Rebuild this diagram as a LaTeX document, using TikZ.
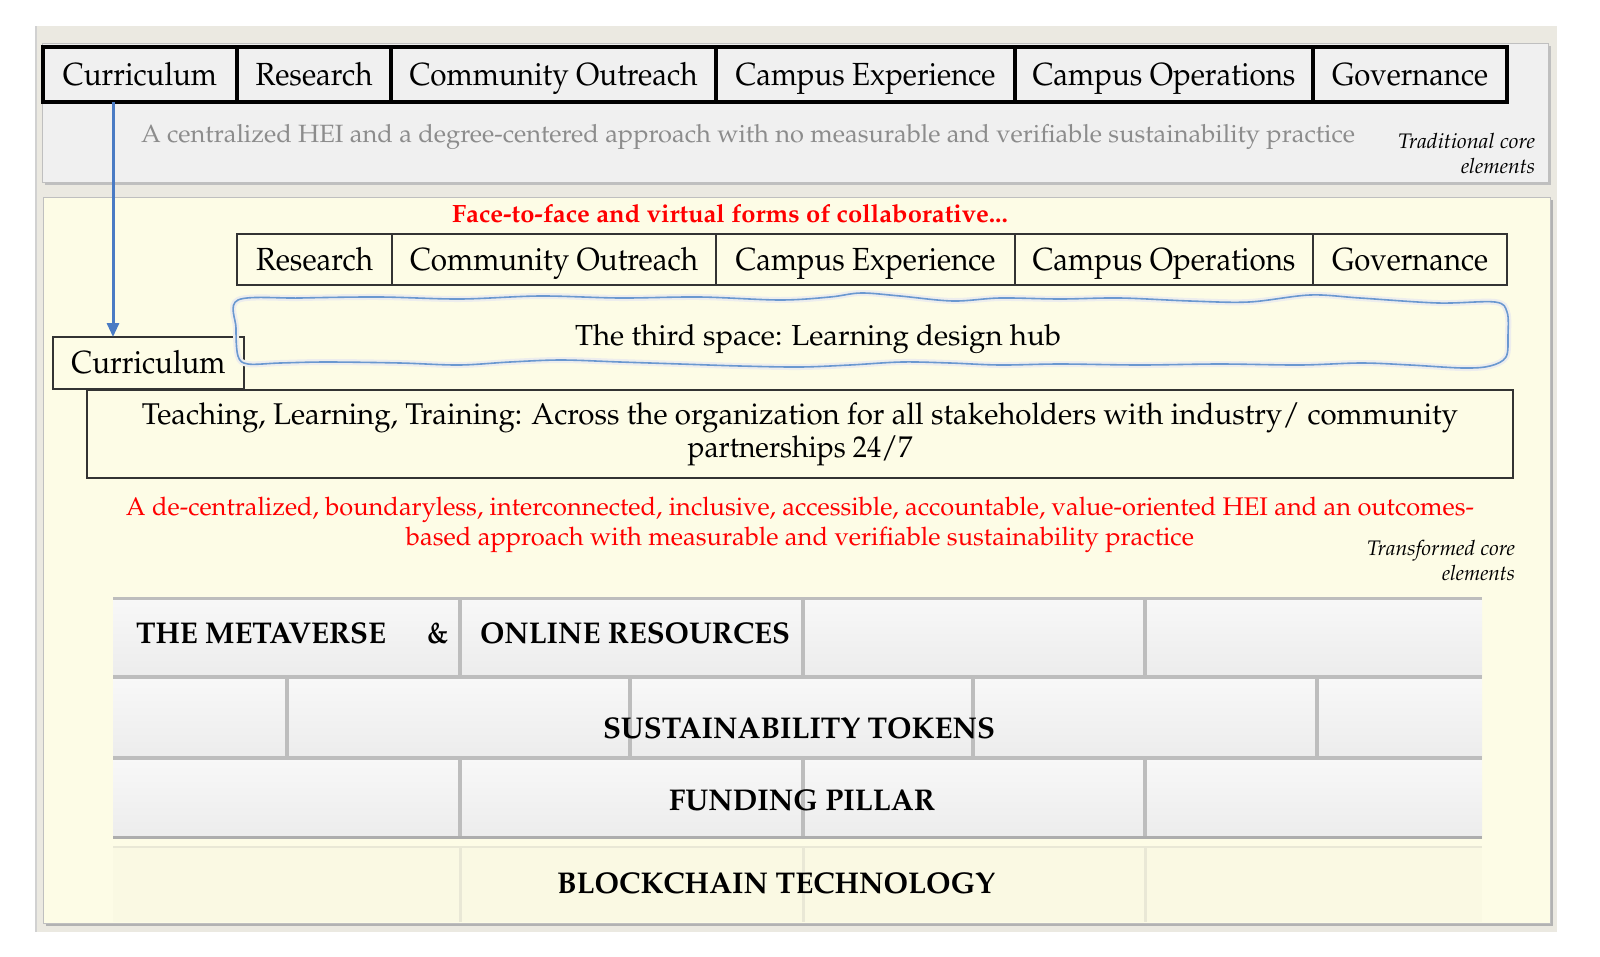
\documentclass[tikz,border=0pt]{standalone}
\IfFileExists{mathpazo.sty}{\usepackage[T1]{fontenc}\usepackage{mathpazo}}{\usepackage{fontspec}\setmainfont{Liberation Serif}}
\usepackage{graphicx}
\usetikzlibrary{arrows.meta}
\definecolor{outerbg}{HTML}{EBE9E1}
\definecolor{toppanel}{HTML}{F0F0F0}
\definecolor{lowpanel}{HTML}{FDFCE6}
\definecolor{graytext}{HTML}{8C8C8C}
\definecolor{redtext}{HTML}{FF0000}
\definecolor{arrowblue}{HTML}{4A7BC4}
\definecolor{wavyblue}{HTML}{6A98D0}
\definecolor{mortar}{HTML}{BDBDBD}
\definecolor{brickA}{HTML}{F8F8F8}
\definecolor{brickB}{HTML}{ECECEC}
\definecolor{rowfour}{HTML}{FAF9E3}
\definecolor{rowfourline}{HTML}{E9E8D6}
\newcommand\fitw[2]{\resizebox{#1pt}{\height}{#2}}
\newcommand\fsz[1]{\fontsize{#1}{#1}\selectfont}
\begin{document}
\begin{tikzpicture}[x=1pt,y=-1pt,
  every node/.style={inner sep=0pt,outer sep=0pt},
  topbox/.style={draw=black, line width=4pt, fill=toppanel, minimum height=55pt,
    text height=21pt, text depth=0pt, font=\fsz{32}},
  rowbox/.style={draw=black!80, line width=1.4pt, fill=lowpanel, minimum height=51pt,
    text height=21pt, text depth=0pt, font=\fsz{32}},
  plainbox/.style={draw=black!80, line width=1.4pt, fill=lowpanel},
  brick/.style={top color=brickA, bottom color=brickB},
  mortarline/.style={draw=mortar, line width=4pt},
  bricktext/.style={anchor=base west, font=\fsz{30}\bfseries},
  redline/.style={anchor=base, font=\fsz{25.5}, text=redtext},
  note/.style={anchor=base east, font=\fsz{21}\itshape},
  conn/.style={draw=arrowblue, line width=3pt, -{Triangle[length=14pt,width=12pt]}}
]
\useasboundingbox (0,0) rectangle (1600,956);
\fill[white] (0,0) rectangle (1600,956);
\fill[outerbg] (35,26) rectangle (1557,932);
\draw[black!18, line width=1.5pt] (36,26) -- (36,932);

% ---------- top panel ----------
\fill[black!25] (45,46) rectangle (1551,185);
\filldraw[fill=toppanel, draw=black!25, line width=0.8pt] (42,43) rectangle (1548,182);

\node[topbox, minimum width=194pt] (ctop) at (140,74.5) {\fitw{154}{Curriculum}};
\node[topbox, minimum width=154pt] (rtop) at (314,74.5) {\fitw{117}{Research}};
\node[topbox, minimum width=325pt] (otop) at (553.5,74.5) {\fitw{288}{Community Outreach}};
\node[topbox, minimum width=299pt] (etop) at (865.5,74.5) {\fitw{260}{Campus Experience}};
\node[topbox, minimum width=298pt] (ptop) at (1164,74.5) {\fitw{263}{Campus Operations}};
\node[topbox, minimum width=194pt] (gtop) at (1410,74.5) {\fitw{156}{Governance}};

\node[anchor=base west, font=\fsz{25}, text=graytext] (tradtext) at (141,142)
  {\fitw{1214}{A centralized HEI and a degree-centered approach with no measurable and verifiable sustainability practice}};
\node[note] (tradA) at (1535,148) {\fitw{137}{Traditional core}};
\node[note] (tradB) at (1535,173) {\fitw{74}{elements}};

% ---------- lower panel ----------
\fill[black!30] (46,200) rectangle (1553,926);
\filldraw[fill=lowpanel, draw=black!25, line width=0.8pt] (43,197) rectangle (1550,923);

\node[anchor=base west, font=\fsz{25}\bfseries, text=redtext] (collab) at (452,222)
  {\fitw{556}{Face-to-face and virtual forms of collaborative...}};

\node[rowbox, minimum width=155pt] (rrow) at (314.5,259.5) {\fitw{117}{Research}};
\node[rowbox, minimum width=324pt] (orow) at (554,259.5) {\fitw{288}{Community Outreach}};
\node[rowbox, minimum width=299pt] (erow) at (865.5,259.5) {\fitw{260}{Campus Experience}};
\node[rowbox, minimum width=298pt] (prow) at (1164,259.5) {\fitw{263}{Campus Operations}};
\node[rowbox, minimum width=194pt] (grow) at (1410,259.5) {\fitw{156}{Governance}};

\node[plainbox, minimum width=1426pt, minimum height=88pt] (teach) at (800,434) {};
\node[anchor=base, font=\fsz{30}] (teachA) at (800,424)
  {\fitw{1316}{Teaching, Learning, Training: Across the organization for all stakeholders with industry/ community}};
\node[anchor=base, font=\fsz{30}] (teachB) at (800,457) {\fitw{225}{partnerships 24/7}};

\node[rowbox, minimum width=191pt, minimum height=52pt] (cbot) at (148.5,363) {\fitw{154}{Curriculum}};

% wavy "third space" outline
\draw[wavyblue, line width=1.6pt, preaction={draw=black!7, line width=6pt}]
  plot[smooth cycle, tension=0.55] coordinates {
  (238,300) (300,298) (380,297) (460,299) (540,296) (620,298) (700,297) (780,300)
  (830,297) (861,293) (900,296) (953,301) (1000,298) (1060,299) (1120,298) (1190,301)
  (1249,302) (1310,295) (1360,298) (1438,303) (1495,302) (1507,312) (1508,335) (1506,357)
  (1490,366) (1463,368) (1410,365) (1361,363) (1300,365) (1220,364) (1140,365) (1060,364)
  (1000,365) (950,363) (902,362) (850,365) (800,367) (740,366) (680,364) (620,362)
  (561,360) (510,362) (459,365) (400,363) (327,362) (280,363) (248,364) (238,356) (236,328)};
\node[anchor=base, font=\fsz{29}] (hub) at (818,345) {\fitw{486}{The third space: Learning design hub}};

\node[redline] (redA) at (800,515)
  {\fitw{1348}{A de-centralized, boundaryless, interconnected, inclusive, accessible, accountable, value-oriented HEI and an outcomes-}};
\node[redline] (redB) at (800,545)
  {\fitw{788}{based approach with measurable and verifiable sustainability practice}};

\node[note] (transA) at (1515,555) {\fitw{148}{Transformed core}};
\node[note] (transB) at (1515,580) {\fitw{73}{elements}};

% ---------- brick wall ----------
\foreach \a/\b in {113/460,460/803,803/1145,1145/1482}
  \shade[brick] (\a,597) rectangle (\b,677);
\foreach \a/\b in {113/287,287/630,630/973,973/1317,1317/1482}
  \shade[brick] (\a,677) rectangle (\b,758);
\foreach \a/\b in {113/460,460/803,803/1145,1145/1482}
  \shade[brick] (\a,758) rectangle (\b,838);
\foreach \x in {460,803,1145} \draw[mortarline] (\x,597) -- (\x,677);
\foreach \x in {287,630,973,1317} \draw[mortarline] (\x,677) -- (\x,758);
\foreach \x in {460,803,1145} \draw[mortarline] (\x,758) -- (\x,838);
\draw[mortar, line width=3pt] (113,598) -- (1482,598);
\foreach \y in {677,758} \draw[mortarline] (113,\y) -- (1482,\y);
\draw[black!32, line width=3pt] (113,837) -- (1482,837);

\fill[rowfour] (113,847) rectangle (1482,922);
\draw[rowfourline, line width=2pt] (113,847) -- (1482,847);
\foreach \x in {460,803,1145} \draw[rowfourline, line width=3pt] (\x,847) -- (\x,922);

\node[bricktext] (meta) at (136,643) {\fitw{250}{THE METAVERSE}};
\node[bricktext] (amp) at (427,643) {\fitw{21}{\&}};
\node[bricktext] (online) at (480,643) {\fitw{310}{ONLINE RESOURCES}};
\node[bricktext] (tokens) at (603,738) {\fitw{392}{SUSTAINABILITY TOKENS}};
\node[bricktext] (funding) at (669,810) {\fitw{266}{FUNDING PILLAR}};
\node[bricktext] (chain) at (557,893) {\fitw{438}{BLOCKCHAIN TECHNOLOGY}};

% ---------- connector ----------
\coordinate (ax) at (113,0);
\draw[conn] (ctop.south -| ax) -- (cbot.north -| ax);
\end{tikzpicture}
\end{document}
